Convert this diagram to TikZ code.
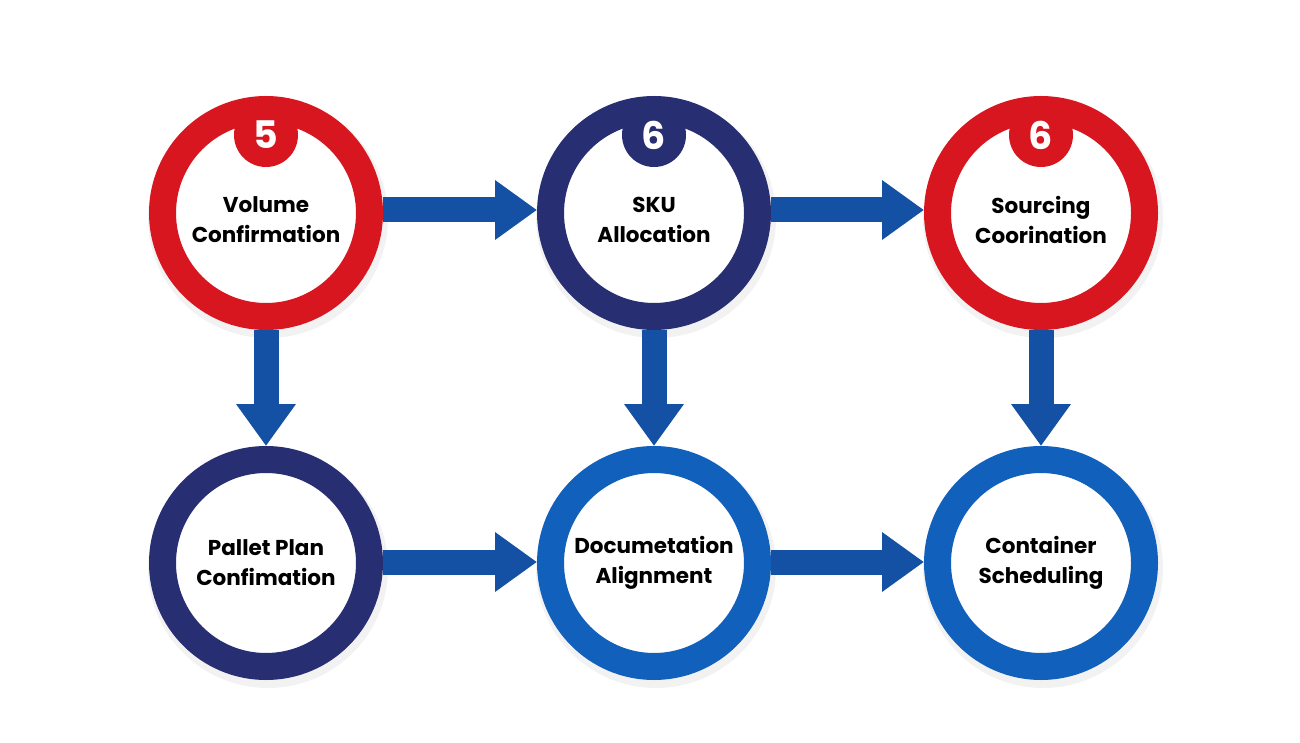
\documentclass[tikz,border=0pt]{standalone}
\usepackage{fontspec}
\setmainfont{Poppins}
\usetikzlibrary{arrows.meta,calc}
\definecolor{ringred}{RGB}{216,22,31}
\definecolor{ringnavy}{RGB}{39,46,114}
\definecolor{ringblue}{RGB}{17,96,188}
\definecolor{arrowblue}{RGB}{20,80,163}
\begin{document}
\begin{tikzpicture}[x=1pt,y=-1pt,
  ring/.style={circle, draw=#1, line width=27pt, minimum size=207pt, inner sep=0pt, outer sep=13.5pt, fill=white},
  txt/.style={font=\fontsize{21.5}{30}\selectfont\bfseries, align=center, text=black},
  badge/.style={circle, fill=#1, minimum size=64pt, inner sep=0pt, text=white, font=\fontsize{38}{38}\selectfont\bfseries},
  flowarrow/.style={draw=arrowblue, line width=25pt, -{Triangle[length=42pt,width=57pt]}},
  shade/.style={fill=black, opacity=0.05}]
\useasboundingbox[fill=white] (0,0) rectangle (1300,743);

% soft shadows
\foreach \x/\y in {266/213,654/213,1041/213,266/563,654/563,1041/563}{
  \fill[shade] (\x+2,\y+5) circle (120);
}

% rings
\node[ring=ringred]  (v) at (266,213) {};
\node[ring=ringnavy] (s) at (654,213) {};
\node[ring=ringred]  (c) at (1041,213) {};
\node[ring=ringnavy] (p) at (266,563) {};
\node[ring=ringblue] (d) at (654,563) {};
\node[ring=ringblue] (k) at (1041,563) {};

% badges
\node[badge=ringred]  (bv) at ($(v)+(0,-78)$) {5};
\node[badge=ringnavy] (bs) at ($(s)+(0,-78)$) {6};
\node[badge=ringred]  (bc) at ($(c)+(0,-78)$) {6};

% labels
\node[txt] (tv) at ($(v)+(0,7)$) {Volume\\Confirmation};
\node[txt] (ts) at ($(s)+(0,7)$) {SKU\\Allocation};
\node[txt] (tc) at ($(c)+(0,7)$) {Sourcing\\Coorination};
\node[txt] (tp) at (p) {Pallet Plan\\Confimation};
\node[txt] (td) at (d) {Documetation\\Alignment};
\node[txt] (tk) at (k) {Container\\Scheduling};

% arrows
\draw[flowarrow] ($(v.east)+(0,-3)$) -- ($(s.west)+(0,-3)$);
\draw[flowarrow] ($(s.east)+(0,-3)$) -- ($(c.west)+(0,-3)$);
\draw[flowarrow] ($(p.east)+(0,-1)$) -- ($(d.west)+(0,-1)$);
\draw[flowarrow] ($(d.east)+(0,-1)$) -- ($(k.west)+(0,-1)$);
\draw[flowarrow] (v.south) -- (p.north);
\draw[flowarrow] (s.south) -- (d.north);
\draw[flowarrow] (c.south) -- (k.north);
\end{tikzpicture}
\end{document}
